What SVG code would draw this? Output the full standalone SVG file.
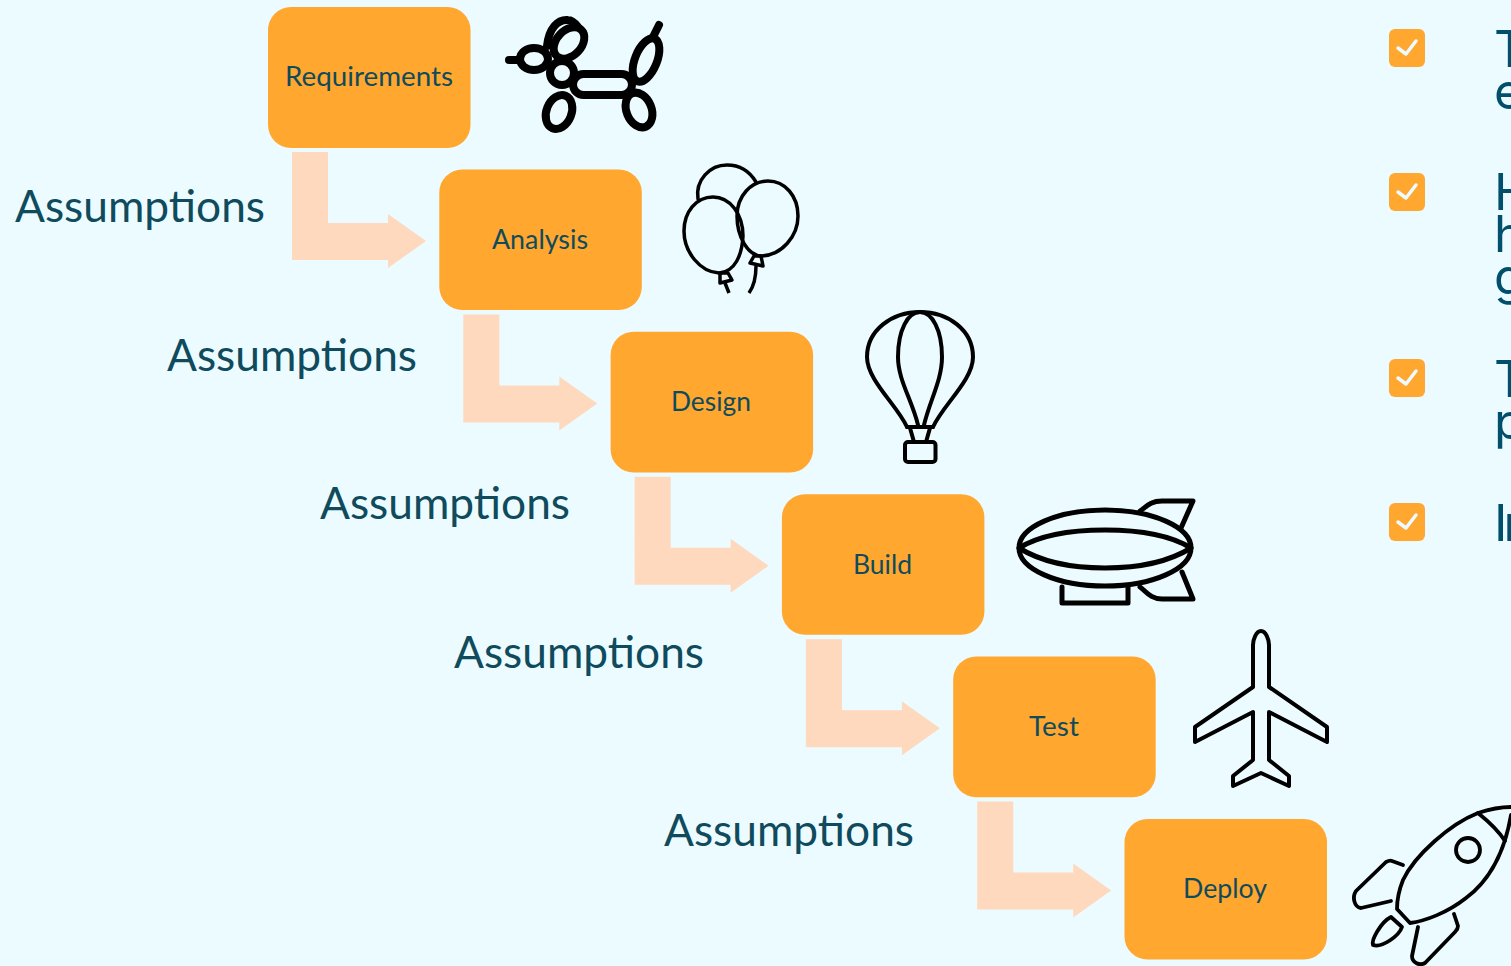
<svg xmlns="http://www.w3.org/2000/svg" width="1511" height="966" viewBox="0 0 1511 966">
<style>
.box{fill:#FFA72F}
.t{font-family:"Lato","Open Sans",sans-serif;fill:#0F4B5C;font-size:27px;text-anchor:middle}
.a{font-family:"Lato","Open Sans",sans-serif;fill:#0F4B5C;font-size:44px}
.r{font-family:"Inter","Noto Sans",sans-serif;fill:#00506B;font-size:50px}
.ar{fill:#FFD9BD}
.i{fill:none;stroke:#000;stroke-linejoin:round;stroke-linecap:round}
.chk{fill:none;stroke:#ECFBFF;stroke-width:3.5;stroke-linecap:round;stroke-linejoin:round}
</style>
<defs>
<path id="arrow" class="ar" d="M292 152H328V223H388V214L426 241L388 268V260H292Z"/>
<g id="check"><rect width="36" height="38" rx="6" fill="#FFA72F"/><path class="chk" d="M9 19L17 25L27 12"/></g>
</defs>
<rect width="1511" height="966" fill="#ECFBFF"/>
<g id="connectors">
<use href="#arrow"/>
<use href="#arrow" x="171.3" y="162.4"/>
<use href="#arrow" x="342.6" y="324.8"/>
<use href="#arrow" x="513.9" y="487.2"/>
<use href="#arrow" x="685.2" y="649.6"/>
</g>
<g id="requirements"><rect class="box" x="268" y="7" width="202.500" height="141" rx="23"/><text class="t" x="369" y="86" textLength="168" lengthAdjust="spacingAndGlyphs">Requirements</text></g>
<g id="analysis"><rect class="box" x="439.300" y="169.400" width="202.500" height="140.600" rx="23"/><text class="t" x="540" y="248.500" textLength="96" lengthAdjust="spacingAndGlyphs">Analysis</text></g>
<g id="design"><rect class="box" x="610.600" y="331.800" width="202.500" height="140.600" rx="23"/><text class="t" x="711" y="410.500" textLength="80" lengthAdjust="spacingAndGlyphs">Design</text></g>
<g id="build"><rect class="box" x="781.900" y="494.200" width="202.500" height="140.600" rx="23"/><text class="t" x="882.500" y="573.500" textLength="59" lengthAdjust="spacingAndGlyphs">Build</text></g>
<g id="test"><rect class="box" x="953.200" y="656.600" width="202.500" height="140.600" rx="23"/><text class="t" x="1054" y="735.500" textLength="50" lengthAdjust="spacingAndGlyphs">Test</text></g>
<g id="deploy"><rect class="box" x="1124.500" y="819" width="202.500" height="140.600" rx="23"/><text class="t" x="1225" y="897.500" textLength="84" lengthAdjust="spacingAndGlyphs">Deploy</text></g>
<g id="labels">
<text class="a" x="15" y="222" textLength="250" lengthAdjust="spacingAndGlyphs">Assumptions</text>
<text class="a" x="167" y="371" textLength="250" lengthAdjust="spacingAndGlyphs">Assumptions</text>
<text class="a" x="320" y="519" textLength="250" lengthAdjust="spacingAndGlyphs">Assumptions</text>
<text class="a" x="454" y="668" textLength="250" lengthAdjust="spacingAndGlyphs">Assumptions</text>
<text class="a" x="664" y="846" textLength="250" lengthAdjust="spacingAndGlyphs">Assumptions</text>
</g>
<g id="icon-dog" class="i" stroke-width="8">
<path d="M509 60H520"/>
<ellipse cx="534" cy="59" rx="14" ry="11"/>
<path d="M547 46C549 28 558 19 568 20C572 20 575 23 578 27"/>
<ellipse cx="569" cy="43" rx="18" ry="12.500" transform="rotate(-47 569 43)"/>
<circle cx="562" cy="73" r="12"/>
<rect x="573" y="74" width="59" height="21" rx="10.500"/>
<ellipse cx="559" cy="112" rx="12.500" ry="17.500" transform="rotate(22 559 112)"/>
<ellipse cx="639" cy="110" rx="12.500" ry="18" transform="rotate(-22 639 110)"/>
<ellipse cx="646" cy="60" rx="11" ry="23" transform="rotate(22 646 60)"/>
<path d="M653 37L659 25"/>
</g>
<g id="icon-balloons" class="i" stroke-width="3.500">
<path d="M698 199C695 180 710 165 727 165C740 165 750 172 756 182"/>
<path d="M713 197C696 197 684 212 684 231C684 252 700 272 719 273C735 272 742 255 743 236C743 214 730 197 713 197Z"/>
<path d="M768 181C751 181 737 196 737 216C737 237 748 256 762 256C781 255 798 237 798 216C798 196 785 181 768 181Z"/>
<path d="M720 273L728 273L732 280L720 283Z"/>
<path d="M725 283L729 293" stroke-linecap="butt"/>
<path d="M754 256L761 256L763 266L750 263Z"/>
<path d="M756 266C756 277 754 286 749 293" stroke-linecap="butt"/>
</g>
<g id="icon-hot-air-balloon" class="i" stroke-width="4">
<path d="M907 427C897 405 867 380 867 357C867 330 892 312 920 312C948 312 973 330 973 357C973 380 943 405 933 427"/>
<path d="M918 425C912 400 898 380 898 357C898 330 908 312 920 312C932 312 942 330 942 357C942 380 930 400 924 425"/>
<path d="M907 427H933M910 428L914 442M930 428L926 442"/>
<rect x="905" y="442" width="30.500" height="20" rx="3"/>
</g>
<g id="icon-blimp" class="i" stroke-width="5">
<ellipse cx="1105" cy="548" rx="86" ry="38"/>
<path d="M1019 548C1040 535 1070 530 1105 530C1140 530 1170 535 1191 548C1170 561 1140 568 1105 568C1070 568 1040 561 1019 548Z"/>
<path d="M1140 511C1146 507 1150 501 1162 501H1193L1181 528"/>
<path d="M1140 587C1146 591 1150 599 1162 599H1193L1182 572"/>
<path d="M1062 587V603H1128V587"/>
</g>
<g id="icon-plane" class="i" stroke-width="4" stroke-linecap="butt" stroke-linejoin="miter">
<path d="M1261 631C1256 631 1253 640 1253 645V687L1195 727V742L1253 712V760L1233 776V786L1261 773L1289 786V776L1269 760V712L1327 742V727L1269 687V645C1269 640 1266 631 1261 631Z"/>
</g>
<g id="icon-rocket" class="i" stroke-width="3.800">
<path d="M1511 807C1500 807 1490 809 1478 813C1450 824 1415 855 1403 880C1399 890 1397 900 1397 909L1410 923C1425 921 1447 913 1466 898C1490 880 1505 850 1511 815"/>
<path d="M1478 813C1488 821 1498 830 1505 841"/>
<circle cx="1468" cy="850" r="12"/>
<path d="M1403 865L1392 861C1390 860 1388 861 1386 862L1356 891C1352 897 1354 907 1361 908L1391 901"/>
<path d="M1454 914L1458 926C1458 929 1457 930 1455 932L1425 963C1420 966 1412 963 1412 956L1418 927"/>
<path d="M1391 917L1402 927C1399 936 1382 948 1373 945C1371 940 1381 922 1391 917Z"/>
</g>
<g id="checklist">
<use href="#check" x="1389" y="29"/>
<use href="#check" x="1389" y="173"/>
<use href="#check" x="1389" y="359"/>
<use href="#check" x="1389" y="503"/>
<text class="r" x="1494" y="67">T<tspan x="1494" dy="42">e</tspan></text>
<text class="r" x="1494" y="210">H<tspan x="1494" dy="42">h</tspan><tspan x="1494" dy="42">g</tspan></text>
<text class="r" x="1494" y="397">T<tspan x="1494" dy="42">p</tspan></text>
<text class="r" x="1494" y="541" letter-spacing="-4">In</text>
</g>
</svg>
